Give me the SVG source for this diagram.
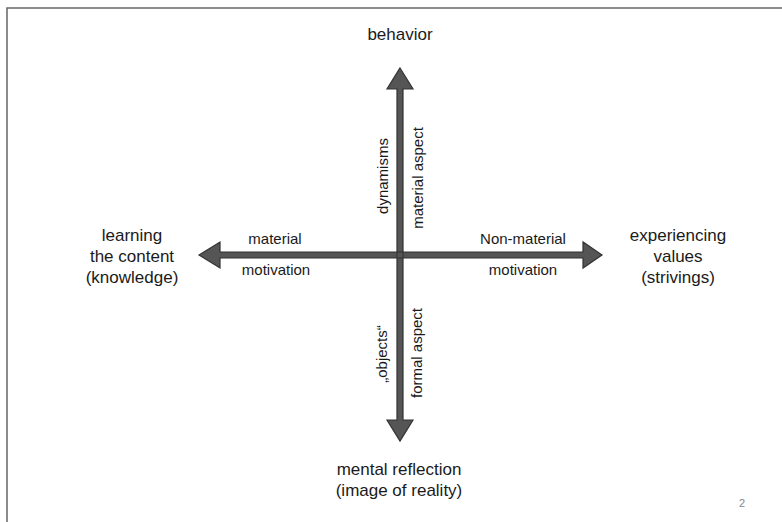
<svg xmlns="http://www.w3.org/2000/svg" width="782" height="522" viewBox="0 0 782 522">
<style>
.t{font-family:"Liberation Sans",Arial,sans-serif;fill:#1a1a1a;text-anchor:middle}
.big{font-size:17px}
.sm{font-size:15px}
.arr{fill:#555;stroke:#333;stroke-width:1.2;stroke-linejoin:miter}
</style>
<rect x="7" y="8" width="780" height="520" fill="#fff" stroke="#666" stroke-width="1.5"/>
<g id="connectors">
<polygon class="arr" points="400,68 413,89 403,89 403,420 413,420 400,441 387,420 397,420 397,89 387,89"/>
<polygon class="arr" points="199,255 220,242 220,252 583,252 583,242 602,255 583,268 583,258 220,258 220,268"/>
<line x1="397" y1="252" x2="397" y2="258" stroke="#333" stroke-width="1"/>
<line x1="403" y1="252" x2="403" y2="258" stroke="#333" stroke-width="1"/>
</g>
<g id="behavior"><text class="t big" x="400" y="40">behavior</text></g>
<g id="learning"><text class="t big" x="132" y="241">learning</text><text class="t big" x="132" y="262">the content</text><text class="t big" x="132" y="283">(knowledge)</text></g>
<g id="experiencing"><text class="t big" x="678" y="241">experiencing</text><text class="t big" x="678" y="262">values</text><text class="t big" x="678" y="283">(strivings)</text></g>
<g id="mental"><text class="t big" x="399" y="475">mental reflection</text><text class="t big" x="399" y="496">(image of reality)</text></g>
<g id="labels">
<text class="t sm" x="275" y="244">material</text>
<text class="t sm" x="276" y="275">motivation</text>
<text class="t sm" x="523" y="244">Non-material</text>
<text class="t sm" x="523" y="275">motivation</text>
<text class="t sm" transform="translate(388,176) rotate(-90)">dynamisms</text>
<text class="t sm" transform="translate(423,178) rotate(-90)">material aspect</text>
<text class="t sm" transform="translate(387,354) rotate(-90)">„objects“</text>
<text class="t sm" transform="translate(422,353) rotate(-90)">formal aspect</text>
</g>
<text x="742" y="507" style="font-family:'Liberation Sans',Arial,sans-serif;font-size:11px;fill:#888;text-anchor:middle">2</text>
</svg>
